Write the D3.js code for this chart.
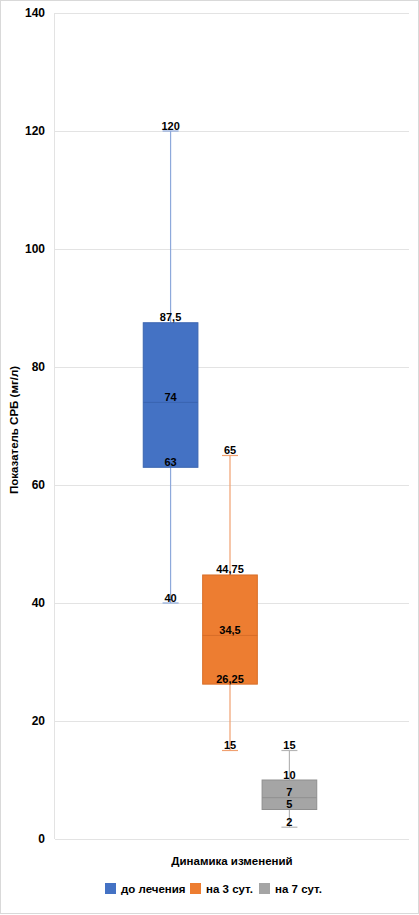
<!DOCTYPE html>
<html>
<head>
<meta charset="utf-8">
<script src="https://cdn.jsdelivr.net/npm/d3@7"></script>
<style>
  body { margin: 0; background: #fff; }
  svg { font-family: "Liberation Sans", Arial, sans-serif; }
</style>
</head>
<body>
<div id="chart"></div>
<script>
var series = ["до лечения", "на 3 сут.", "на 7 сут."];
var mins    = [40, 15, 2];
var q1s     = [63, 26.25, 5];
var medians = [74, 34.5, 7];
var q3s     = [87.5, 44.75, 10];
var maxs    = [120, 65, 15];
var yTicks  = [0, 20, 40, 60, 80, 100, 120, 140];

var fills   = ["#4472C4", "#ED7D31", "#A5A5A5"],
    strokes = ["#3A64B0", "#D86E28", "#8F8F8F"],
    whisk   = ["#8EA9DB", "#F0A070", "#B5B5B5"];

var width = 419,
    height = 915;

var fmt = function(v){ return String(v).replace(".", ","); };

var data = series.map(function(s, i){
  return {name: s, min: mins[i], q1: q1s[i], med: medians[i], q3: q3s[i], max: maxs[i], i: i};
});

var svg = d3.select("#chart").append("svg")
    .attr("width", width)
    .attr("height", height);

// outer border
svg.append("rect")
    .attr("x", 0.5).attr("y", 0.5)
    .attr("width", width - 1).attr("height", height - 2)
    .attr("fill", "#fff")
    .attr("stroke", "#d9d9d9");

var y = d3.scaleLinear().domain([0, 140]).range([839, 13]);
var x = d3.scaleBand().domain(series).range([138.5, 321.5]).paddingInner(0.08).paddingOuter(0.08);
var left = 55, right = 409;

// gridlines
svg.append("g").selectAll("line")
    .data(yTicks)
  .enter().append("line")
    .attr("x1", left).attr("x2", right)
    .attr("y1", function(d){ return Math.round(y(d)) + 0.5; })
    .attr("y2", function(d){ return Math.round(y(d)) + 0.5; })
    .attr("stroke", "#e3e3e3");

svg.append("line")
    .attr("x1", left - 0.5).attr("x2", left - 0.5)
    .attr("y1", y(140)).attr("y2", y(0))
    .attr("stroke", "#e3e3e3");

// y axis labels
var yAxis = d3.axisLeft(y).tickValues(yTicks).tickSize(0).tickPadding(10);
var ya = svg.append("g").attr("transform", "translate(" + left + ",0)").call(yAxis);
ya.select(".domain").remove();
ya.selectAll("text")
    .attr("font-family", "Liberation Sans, Arial, sans-serif")
    .attr("font-size", 12).attr("font-weight", "bold").attr("fill", "#000");

// boxes
var box = svg.append("g").selectAll("g")
    .data(data)
  .enter().append("g");

box.each(function(d){
  var g = d3.select(this);
  var cx = x(d.name) + x.bandwidth() / 2;
  var cap = 8;
  g.append("line")
      .attr("x1", cx).attr("x2", cx)
      .attr("y1", y(d.max)).attr("y2", y(d.min))
      .attr("stroke", whisk[d.i]).attr("stroke-width", 1.2);
  [d.min, d.max].forEach(function(v){
    g.append("line")
        .attr("x1", cx - cap).attr("x2", cx + cap)
        .attr("y1", y(v)).attr("y2", y(v))
        .attr("stroke", whisk[d.i]).attr("stroke-width", 1.2);
  });
  g.append("rect")
      .attr("x", x(d.name)).attr("width", x.bandwidth())
      .attr("y", y(d.q3)).attr("height", y(d.q1) - y(d.q3))
      .attr("fill", fills[d.i]).attr("stroke", strokes[d.i]).attr("stroke-width", 1);
  g.append("line")
      .attr("x1", x(d.name)).attr("x2", x(d.name) + x.bandwidth())
      .attr("y1", y(d.med)).attr("y2", y(d.med))
      .attr("stroke", strokes[d.i]).attr("stroke-width", 1);

  [d.min, d.q1, d.med, d.q3, d.max].forEach(function(v){
    g.append("text")
        .attr("x", cx).attr("y", y(v) - 1.5)
        .attr("text-anchor", "middle")
        .attr("font-size", 11).attr("font-weight", "bold")
        .attr("fill", "#000")
        .text(fmt(v));
  });
});

// axis titles
svg.append("text")
    .attr("transform", "translate(18,430) rotate(-90)")
    .attr("text-anchor", "middle")
    .attr("font-size", 11.5).attr("font-weight", "bold")
    .text("Показатель СРБ (мг/л)");

svg.append("text")
    .attr("x", 232).attr("y", 865)
    .attr("text-anchor", "middle")
    .attr("font-size", 11.5).attr("font-weight", "bold")
    .text("Динамика изменений");

// legend
var legendX = [105, 190, 259];
var lg = svg.append("g").selectAll("g")
    .data(series)
  .enter().append("g")
    .attr("transform", function(d, i){ return "translate(" + legendX[i] + ",883)"; });
lg.append("rect")
    .attr("width", 11).attr("height", 11)
    .attr("fill", function(d, i){ return fills[i]; });
lg.append("text")
    .attr("x", 16).attr("y", 10)
    .attr("font-size", 11.5).attr("font-weight", "bold")
    .text(function(d){ return d; });
</script>
</body>
</html>
